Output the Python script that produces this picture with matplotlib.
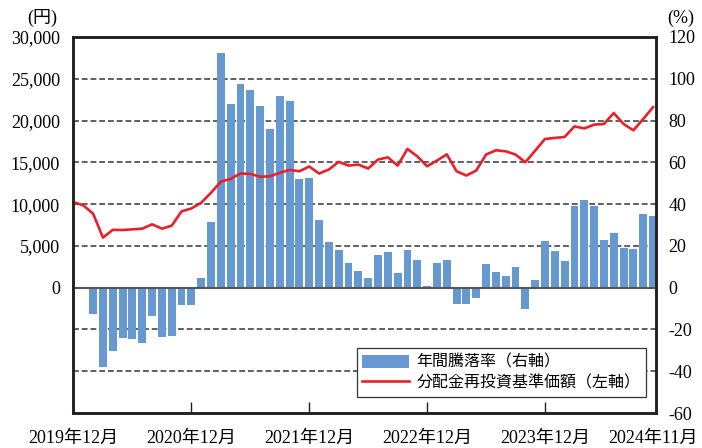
import numpy as np
import matplotlib.pyplot as plt

plt.rcParams['font.family'] = ['Liberation Serif', 'Noto Sans CJK JP']
plt.rcParams['axes.unicode_minus'] = False

# monthly data, 2019/12 .. 2024/11
nav = [10240, 9850, 8850, 5990, 6920, 6900, 6980, 7060, 7580, 7060,
       7420, 9130, 9480, 10160, 11360, 12680, 13030, 13660, 13620, 13270,
       13340, 13740, 14100, 13930, 14500, 13660, 14140, 15060, 14610, 14730,
       14260, 15330, 15600, 14610, 16600, 15720, 14530, 15210, 15960, 13930,
       13420, 14020, 15930, 16440, 16320, 15930, 15010, 16400, 17800, 17920,
       18040, 19300, 19060, 19510, 19590, 20900, 19590, 18830, 20190, 21600]
rate = [np.nan, np.nan, -12.6, -37.8, -30.2, -24.0, -24.5, -26.4, -13.5, -23.5,
        -23.0, -8.3, -8.3, 4.4, 31.6, 112.5, 87.8, 97.3, 94.4, 86.8,
        75.9, 91.6, 89.2, 52.0, 52.5, 32.2, 22.1, 17.8, 11.7, 7.8,
        4.6, 15.5, 16.9, 7.0, 17.9, 13.1, 0.8, 11.8, 13.1, -8.0,
        -8.0, -5.0, 11.4, 7.6, 5.7, 9.7, -10.2, 3.9, 22.4, 17.6,
        12.9, 39.0, 41.9, 39.0, 23.0, 26.3, 18.8, 18.3, 35.4, 34.4]
tick_pos = [0, 12, 24, 36, 48, 59]
tick_labels = ['2019年12月', '2020年12月', '2021年12月', '2022年12月', '2023年12月', '2024年11月']

x = np.arange(len(nav))

fig = plt.figure(figsize=(7.02, 4.48), dpi=100)
ax = fig.add_axes([72.5/702, 1-413/448, (656-72.5)/702, (413-37)/448])
ax2 = ax.twinx()
ax.yaxis.tick_right()
ax2.yaxis.tick_left()

ax.set_xlim(-0.1, 59.3)
ax.set_ylim(-60, 120)
ax2.set_ylim(-15000, 30000)

for v in [-40, -20, 20, 40, 60, 80, 100]:
    ax.axhline(v, color='#606060', lw=1.4, ls=(0, (3, 1.5)), zorder=0.5)
bars = ax.bar(x, rate, width=0.8, color='#6699D1', zorder=2)
ax.axhline(0, color='#555555', lw=1.5, zorder=3)
line, = ax2.plot(x, nav, color='#E8202A', lw=1.9)

ax.set_yticks(np.arange(-60, 121, 20))
ax.set_yticklabels([str(v) for v in range(-60, 121, 20)])
ax.tick_params(axis='y', length=0, pad=9, labelsize=13)
ax2.set_yticks(np.arange(0, 30001, 5000))
ax2.set_yticklabels([f'{v:,}' for v in range(0, 30001, 5000)])
ax2.tick_params(axis='y', length=0, pad=9, labelsize=13)

# labels on major ticks, inward marks on the inner year ends as minor ticks
ax.xaxis.remove_overlapping_locs = False
ax.set_xticks(tick_pos)
ax.set_xticklabels(tick_labels)
ax.tick_params(axis='x', which='major', length=0, pad=12, labelsize=13)
ax.set_xticks([12, 24, 36, 48], minor=True)
ax.tick_params(axis='x', which='minor', direction='in', length=8, width=1, color='#231F20')

for a in (ax, ax2):
    for s in a.spines.values():
        s.set_linewidth(1.8)
        s.set_color('#231F20')

fig.text(42/702, 1-18/448, '(円)', ha='center', va='center', fontsize=13)
fig.text(681/702, 1-18/448, '(%)', ha='center', va='center', fontsize=13)

leg = ax2.legend([bars, line], ['年間騰落率（右軸）', '分配金再投資基準価額（左軸）'],
                 loc='upper left', bbox_to_anchor=(356.7/702, 1-348.3/448),
                 bbox_transform=fig.transFigure, frameon=True, fancybox=False,
                 edgecolor='#333333', framealpha=1, borderaxespad=0, borderpad=0.35,
                 handlelength=2.9, handleheight=0.85, handletextpad=0.5,
                 labelspacing=0.22, prop={'family': 'Noto Sans CJK JP', 'size': 11.5})
leg.get_frame().set_linewidth(0.9)

fig.savefig('out.png', dpi=100)
